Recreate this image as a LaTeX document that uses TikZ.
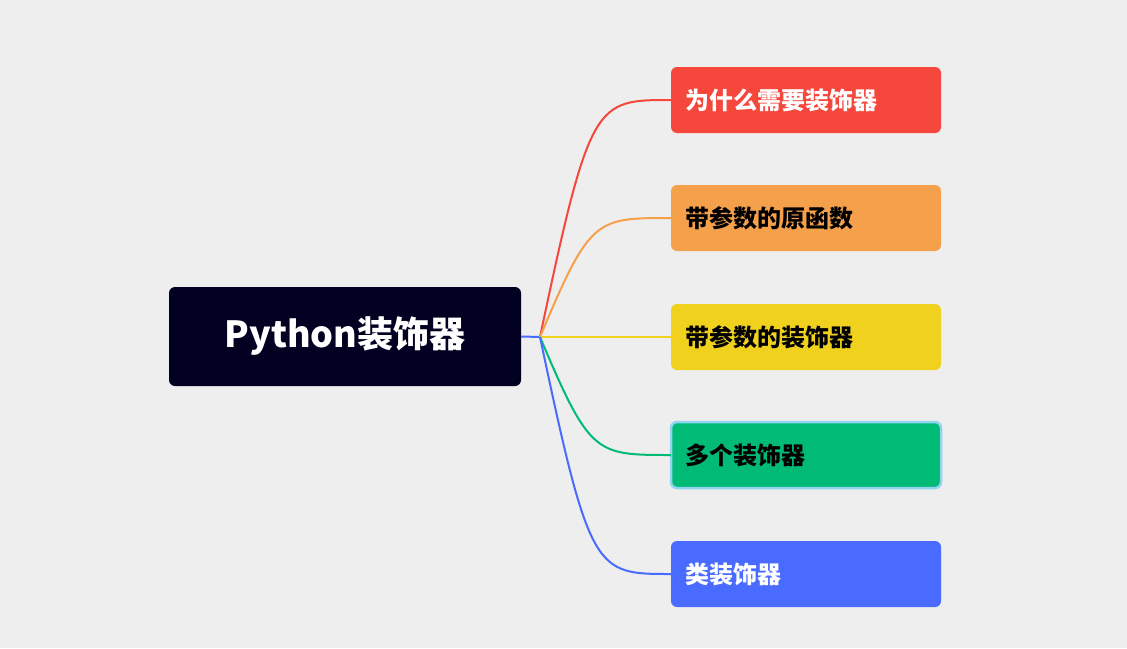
\documentclass[tikz,border=0pt]{standalone}
\usepackage{fontspec}
\setmainfont{Noto Sans CJK SC}
\usetikzlibrary{positioning}
\definecolor{bg}{HTML}{EEEEEE}
\definecolor{rootc}{HTML}{020121}
\definecolor{redc}{HTML}{F5473C}
\definecolor{orangec}{HTML}{F5A04B}
\definecolor{yellowc}{HTML}{F0D21E}
\definecolor{greenc}{HTML}{00BA75}
\definecolor{bluec}{HTML}{4A6BFF}
\definecolor{selc}{HTML}{90D4F0}
\tikzset{
  topic/.style={rounded corners=6pt, minimum width=270pt, minimum height=66pt,
    text width=242pt, align=left, font=\fontsize{24}{28}\selectfont\bfseries},
  branch/.style={line width=2pt}
}
\begin{document}
\begin{tikzpicture}[x=1pt,y=-1pt]
		\useasboundingbox[fill=bg] (0,0) rectangle (1127,648);
		\node[fill=rootc, rounded corners=6pt, minimum width=352pt, minimum height=99pt,
		      text=white, font=\fontsize{36}{40}\selectfont\bfseries] (root) at (345,336.5) {Python装饰器};
		\coordinate (o) at (540,337);
		
		\begin{scope}[every node/.style={topic}]
			\node[fill=redc, text=white] (t1) at (806,100) {为什么需要装饰器};
			\node[fill=orangec] (t2) at (806,218) {带参数的原函数};
			\node[fill=yellowc] (t3) at (806,337) {带参数的装饰器};
			\node[fill=greenc, draw=selc, line width=2.5pt, outer sep=0pt] (t4) at (806,455) {多个装饰器};
			\node[fill=bluec, text=white] (t5) at (806,574) {类装饰器};
		\end{scope}
		
		\begin{scope}[every path/.style={branch}]
			\draw[bluec] (root.east) -- (o);
			\draw[redc] (o) .. controls (590,100) and (595,100) .. (t1.west);
			\draw[orangec] (o) .. controls (590,218) and (595,218) .. (t2.west);
			\draw[yellowc] (o) -- (t3.west);
			\draw[greenc] (o) .. controls (590,455) and (595,455) .. (t4.west);
			\draw[bluec] (o) .. controls (590,574) and (595,574) .. (t5.west);
		\end{scope}
\end{tikzpicture}
\end{document}
